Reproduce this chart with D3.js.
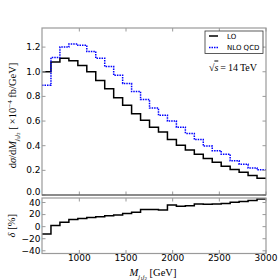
<!DOCTYPE html>
<html>
<head>
<meta charset="utf-8">
<script src="https://cdn.jsdelivr.net/npm/d3@7"></script>
<style>
  body { margin: 0; background: #fff; }
  .tick-label { font-family: "DejaVu Sans", sans-serif; font-size: 9px; fill: #000; }
  .math { font-family: "Liberation Serif", "DejaVu Serif", serif; fill: #000; }
  .legend-text { font-family: "DejaVu Sans", sans-serif; font-size: 7px; fill: #000; }
</style>
</head>
<body>
<div id="wrapper"></div>
<script>
// bin edges in GeV (25 bins)
const binEdges = [600, 696, 792, 888, 984, 1080, 1176, 1272, 1368, 1464, 1560, 1656, 1752,
    1848, 1944, 2040, 2136, 2232, 2328, 2424, 2520, 2616, 2712, 2808, 2904, 3000];

// dsigma/dM  [x1e-4 fb/GeV]
const loValues = [1.00, 1.08, 1.11, 1.09, 1.05, 1.00, 0.93, 0.862, 0.79, 0.728, 0.66, 0.606, 0.55,
    0.511, 0.45, 0.403, 0.365, 0.33, 0.297, 0.265, 0.233, 0.207, 0.185, 0.158, 0.136];
const nloValues = [0.89, 1.115, 1.20, 1.225, 1.215, 1.165, 1.11, 1.042, 0.971, 0.905, 0.84, 0.775, 0.705,
    0.647, 0.60, 0.55, 0.50, 0.45, 0.397, 0.36, 0.33, 0.277, 0.25, 0.22, 0.204];

// delta [%]
const deltaValues = [-12, 2, 7.5, 12, 13.5, 15, 16.5, 18, 19.5, 22, 24, 28.5, 28.5,
    27.5, 36, 34, 34.5, 37.5, 37, 37.5, 38.5, 40.5, 41.5, 43.5, 46];

const xTicks = [1000, 1500, 2000, 2500, 3000];
const yTicksTop = [0.0, 0.2, 0.4, 0.6, 0.8, 1.0, 1.2];
const yTicksBottom = [-40, -20, 0, 20, 40];

function drawChart() {
    const width = 280, height = 280;
    const left = 42, right = 266;
    const top = { y0: 28, y1: 195 };
    const bot = { y0: 198, y1: 253.5 };
    const frameColor = "#9a9a9a";
    const tickLen = 3.5;

    const svg = d3.select("#wrapper").append("svg")
        .attr("width", width)
        .attr("height", height);

    const x = d3.scaleLinear().domain([600, 3000]).range([left, right]);
    const yTop = d3.scaleLinear().domain([0, 1.355]).range([top.y1, top.y0]);
    const yBot = d3.scaleLinear().domain([-44.5, 47.5]).range([bot.y1, bot.y0]);

    const stepPoints = vals => vals.map((v, i) => [binEdges[i], v])
        .concat([[binEdges[binEdges.length - 1], vals[vals.length - 1]]]);

    const lineTop = d3.line().x(d => x(d[0])).y(d => yTop(d[1])).curve(d3.curveStepAfter);
    const lineBot = d3.line().x(d => x(d[0])).y(d => yBot(d[1])).curve(d3.curveStepAfter);

    // clip paths
    const defs = svg.append("defs");
    defs.append("clipPath").attr("id", "clipTop").append("rect")
        .attr("x", left).attr("y", top.y0).attr("width", right - left).attr("height", top.y1 - top.y0);
    defs.append("clipPath").attr("id", "clipBot").append("rect")
        .attr("x", left).attr("y", bot.y0).attr("width", right - left).attr("height", bot.y1 - bot.y0);

    // data - top panel
    const gTop = svg.append("g").attr("clip-path", "url(#clipTop)");
    gTop.append("path")
        .attr("d", lineTop(stepPoints(loValues)))
        .attr("fill", "none").attr("stroke", "#000").attr("stroke-width", 1.5);
    gTop.append("path")
        .attr("d", lineTop(stepPoints(nloValues)))
        .attr("fill", "none").attr("stroke", "#0000ff").attr("stroke-width", 1.5)
        .attr("stroke-dasharray", "1.5,1");

    // data - bottom panel
    const gBot = svg.append("g").attr("clip-path", "url(#clipBot)");
    gBot.append("path")
        .attr("d", lineBot(stepPoints(deltaValues)))
        .attr("fill", "none").attr("stroke", "#000").attr("stroke-width", 1.5);

    // frames and ticks
    // labelShift nudges the labels that sit where the two panels meet
    const drawFrame = (y0, y1, yScale, yTicks, fmt, showX, labelShift) => {
        const g = svg.append("g");
        g.append("rect")
            .attr("x", left).attr("y", y0).attr("width", right - left).attr("height", y1 - y0)
            .attr("fill", "none").attr("stroke", frameColor).attr("stroke-width", 1.2);
        xTicks.forEach(t => {
            g.append("line").attr("x1", x(t)).attr("x2", x(t)).attr("y1", y1).attr("y2", y1 - tickLen)
                .attr("stroke", frameColor);
            g.append("line").attr("x1", x(t)).attr("x2", x(t)).attr("y1", y0).attr("y2", y0 + tickLen)
                .attr("stroke", frameColor);
            if (showX) {
                g.append("text").attr("class", "tick-label")
                    .attr("x", x(t)).attr("y", 260.5)
                    .attr("text-anchor", "middle")
                    .text(t);
            }
        });
        yTicks.forEach(t => {
            g.append("line").attr("x1", left).attr("x2", left + tickLen).attr("y1", yScale(t)).attr("y2", yScale(t))
                .attr("stroke", frameColor);
            g.append("line").attr("x1", right).attr("x2", right - tickLen).attr("y1", yScale(t)).attr("y2", yScale(t))
                .attr("stroke", frameColor);
            g.append("text").attr("class", "tick-label")
                .attr("x", left - 1.5).attr("y", yScale(t) + 2.9 + labelShift(t))
                .attr("text-anchor", "end")
                .text(fmt(t));
        });
    };
    drawFrame(top.y0, top.y1, yTop, yTicksTop, d => d.toFixed(1), false, t => t === 0 ? -2.6 : 0);
    drawFrame(bot.y0, bot.y1, yBot, yTicksBottom, d => d < 0 ? "\u2212" + Math.abs(d) : d, true,
        t => t === 40 ? 0.6 : 0);

    // zero line of top panel
    svg.append("line").attr("x1", left).attr("x2", right)
        .attr("y1", yTop(0)).attr("y2", yTop(0))
        .attr("stroke", "#555").attr("stroke-width", 1);

    // legend
    const legend = svg.append("g");
    legend.append("rect").attr("x", 205).attr("y", 31).attr("width", 58).attr("height", 22.5)
        .attr("fill", "#fff").attr("stroke", "#333").attr("stroke-width", 0.8);
    legend.append("line").attr("x1", 209).attr("x2", 218).attr("y1", 36).attr("y2", 36)
        .attr("stroke", "#000").attr("stroke-width", 1.5);
    legend.append("line").attr("x1", 209).attr("x2", 218).attr("y1", 47.5).attr("y2", 47.5)
        .attr("stroke", "#0000ff").attr("stroke-width", 1.5).attr("stroke-dasharray", "1.5,1");
    legend.append("text").attr("class", "legend-text").attr("x", 227).attr("y", 38.5).text("LO");
    legend.append("text").attr("class", "legend-text").attr("x", 227).attr("y", 50).text("NLO QCD");

    // sqrt(s) label
    const sq = svg.append("text").attr("class", "math").attr("x", 257).attr("y", 70.5)
        .attr("text-anchor", "end").style("font-size", "10px");
    sq.append("tspan").text("\u221A");
    sq.append("tspan").attr("font-style", "italic").attr("text-decoration", "overline").text("s");
    sq.append("tspan").text("\u2009=\u200914\u2009TeV");

    // x label
    const xl = svg.append("text").attr("class", "math")
        .attr("x", 153).attr("y", 276).attr("text-anchor", "middle").style("font-size", "10.5px");
    xl.append("tspan").attr("font-style", "italic").text("M");
    xl.append("tspan").attr("font-style", "italic").attr("dy", 2.5).style("font-size", "6.5px").text("j");
    xl.append("tspan").attr("dy", 1).style("font-size", "5px").text("1");
    xl.append("tspan").attr("font-style", "italic").attr("dy", -1).style("font-size", "6.5px").text("j");
    xl.append("tspan").attr("dy", 1).style("font-size", "5px").text("2");
    xl.append("tspan").attr("dy", -3.5).text(" [GeV]");

    // y label top
    const yl = svg.append("text").attr("class", "math")
        .attr("transform", `translate(16, ${(top.y0 + top.y1) / 2 + 4}) rotate(-90)`)
        .attr("text-anchor", "middle").style("font-size", "10.5px");
    yl.append("tspan").text("d");
    yl.append("tspan").attr("font-style", "italic").text("\u03C3");
    yl.append("tspan").text("/d");
    yl.append("tspan").attr("font-style", "italic").text("M");
    yl.append("tspan").attr("font-style", "italic").attr("dy", 2.5).style("font-size", "6.5px").text("j");
    yl.append("tspan").attr("dy", 1).style("font-size", "5px").text("1");
    yl.append("tspan").attr("font-style", "italic").attr("dy", -1).style("font-size", "6.5px").text("j");
    yl.append("tspan").attr("dy", 1).style("font-size", "5px").text("2");
    yl.append("tspan").attr("dy", -3.5).text(" [\u2009\u00D710");
    yl.append("tspan").attr("dy", -4).style("font-size", "7px").text("\u22124");
    yl.append("tspan").attr("dy", 4).text(" fb/GeV]");

    // y label bottom
    const yb = svg.append("text").attr("class", "math")
        .attr("transform", `translate(15, ${(bot.y0 + bot.y1) / 2}) rotate(-90)`)
        .attr("text-anchor", "middle").style("font-size", "10.5px");
    yb.append("tspan").attr("font-style", "italic").text("\u03B4");
    yb.append("tspan").text(" [%]");
}

drawChart();
</script>
</body>
</html>
